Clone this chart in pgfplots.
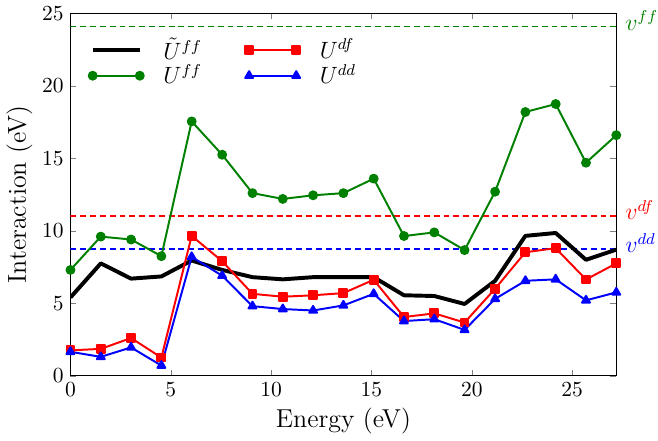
\documentclass[border=0pt]{standalone}
\usepackage{pgfplots}
\pgfplotsset{compat=1.18}
\definecolor{mplgreen}{rgb}{0,0.5,0}
\begin{document}
\begin{tikzpicture}
\begin{axis}[
  scale only axis, width=278pt, height=184.5pt,
  xmin=0, xmax=27.2, ymin=0, ymax=25,
  xtick={0,5,...,25}, ytick={0,5,...,25},
  tick align=inside, major tick length=3pt,
  xtick pos=both, ytick pos=both,
  tick label style={font=\fontsize{10.5}{12}\selectfont},
  label style={font=\fontsize{13.2}{15}\selectfont},
  xlabel={Energy (eV)}, ylabel={Interaction (eV)},
  xlabel style={yshift=1pt}, ylabel style={yshift=-2pt},
  legend columns=2,
  legend style={draw=none, fill=none, at={(0.022,0.955)}, anchor=north west,
    font=\fontsize{12}{13}\selectfont, row sep=-3pt,
    /tikz/every odd column/.append style={column sep=8pt},
    /tikz/every even column/.append style={column sep=20pt}},
  legend cell align=left,
  legend image code/.code={\draw[#1] plot coordinates {(0pt,0pt) (24pt,0pt)};},
  every axis plot/.append style={line join=round},
  mark options={solid, draw=black, line width=0.4pt}
]
% reference levels
\addplot[forget plot, mplgreen, line width=1pt, dash pattern=on 3pt off 2pt] coordinates {(0,24.1) (27.2,24.1)};
\addplot[forget plot, red, line width=1pt, dash pattern=on 3pt off 2pt] coordinates {(0,11.02) (27.2,11.02)};
\addplot[forget plot, blue, line width=1pt, dash pattern=on 3pt off 2pt] coordinates {(0,8.76) (27.2,8.76)};
\coordinate (vff) at (axis cs:27.2,24.1);
\coordinate (vdf) at (axis cs:27.2,11.02);
\coordinate (vdd) at (axis cs:27.2,8.76);

\addplot[black, line width=2pt] coordinates {
(0,5.4) (1.51,7.75) (3.02,6.7) (4.53,6.85) (6.04,7.95) (7.56,7.3) (9.07,6.8)
(10.58,6.65) (12.09,6.8) (13.6,6.8) (15.11,6.8) (16.62,5.55) (18.13,5.5)
(19.64,4.95) (21.16,6.55) (22.67,9.65) (24.18,9.85) (25.69,8.0) (27.2,8.7)};
\addlegendentry{$\tilde{U}^{ff}$}
\addplot[red, line width=1pt, mark=square*, mark size=2pt, mark options={fill=red}] coordinates {
(0,1.75) (1.51,1.85) (3.02,2.6) (4.53,1.25) (6.04,9.65) (7.56,7.9) (9.07,5.65)
(10.58,5.45) (12.09,5.55) (13.6,5.7) (15.11,6.62) (16.62,4.05) (18.13,4.3)
(19.64,3.67) (21.16,6.0) (22.67,8.52) (24.18,8.8) (25.69,6.64) (27.2,7.75)};
\addlegendentry{$U^{df}$}
\addplot[mplgreen, line width=1pt, mark=*, mark size=2pt, mark options={fill=mplgreen}] coordinates {
(0,7.3) (1.51,9.6) (3.02,9.4) (4.53,8.25) (6.04,17.55) (7.56,15.25) (9.07,12.6)
(10.58,12.2) (12.09,12.45) (13.6,12.6) (15.11,13.6) (16.62,9.64) (18.13,9.89)
(19.64,8.67) (21.16,12.7) (22.67,18.2) (24.18,18.75) (25.69,14.7) (27.2,16.6)};
\addlegendentry{$U^{ff}$}
\addplot[blue, line width=1pt, mark=triangle*, mark size=2.3pt, mark options={fill=blue}] coordinates {
(0,1.65) (1.51,1.3) (3.02,1.95) (4.53,0.7) (6.04,8.2) (7.56,6.9) (9.07,4.8)
(10.58,4.6) (12.09,4.5) (13.6,4.85) (15.11,5.65) (16.62,3.77) (18.13,3.9)
(19.64,3.16) (21.16,5.3) (22.67,6.55) (24.18,6.65) (25.69,5.2) (27.2,5.75)};
\addlegendentry{$U^{dd}$}
\end{axis}
\node[anchor=west, text=mplgreen, font=\fontsize{12}{13}\selectfont, inner sep=0pt] at ([xshift=4.5pt,yshift=3pt]vff) {$v^{ff}$};
\node[anchor=west, text=red, font=\fontsize{12}{13}\selectfont, inner sep=0pt] at ([xshift=4.5pt,yshift=3pt]vdf) {$v^{df}$};
\node[anchor=west, text=blue, font=\fontsize{12}{13}\selectfont, inner sep=0pt] at ([xshift=4.5pt,yshift=3pt]vdd) {$v^{dd}$};
\end{tikzpicture}
\end{document}
